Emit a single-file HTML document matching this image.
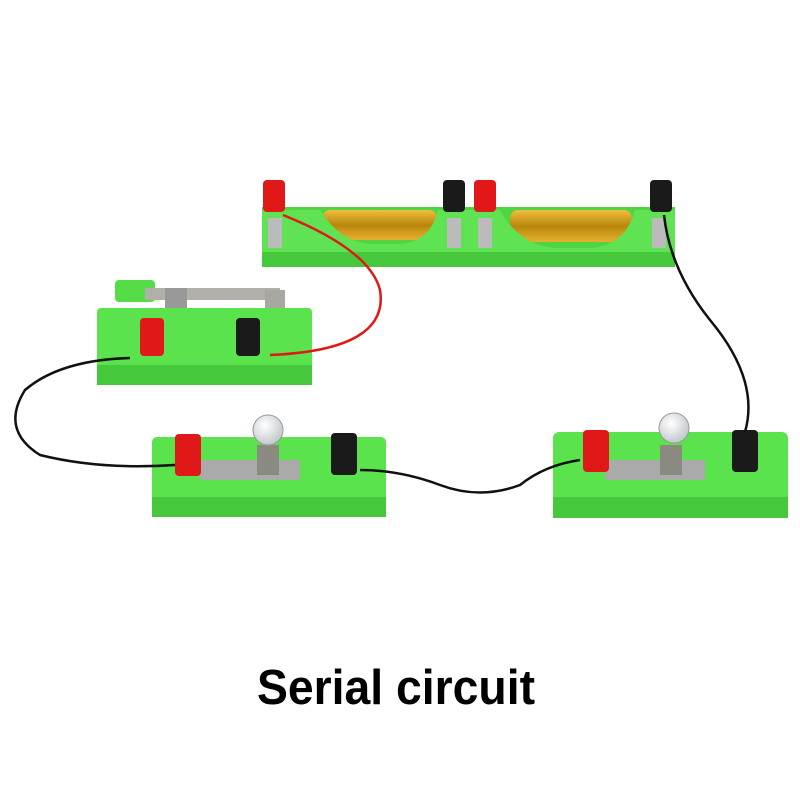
<!DOCTYPE html>
<html><head><meta charset="utf-8"><style>body{margin:0;background:#fff}svg{display:block}</style></head>
<body>
<svg width="800" height="800" viewBox="0 0 800 800" xmlns="http://www.w3.org/2000/svg">
<rect width="800" height="800" fill="#fff"/>
<defs>
<linearGradient id="bat" x1="0" y1="0" x2="0" y2="1"><stop offset="0" stop-color="#f0c040"/><stop offset=".5" stop-color="#b8860b"/><stop offset="1" stop-color="#e8b030"/></linearGradient>
<radialGradient id="bulb" cx=".4" cy=".35" r=".6"><stop offset="0" stop-color="#fff"/><stop offset="1" stop-color="#c8ccd0"/></radialGradient>
</defs>
<!-- battery holder -->
<rect x="262" y="207" width="413" height="60" fill="#4fd442"/>
<rect x="322" y="210" width="115" height="30" rx="8" fill="url(#bat)"/>
<rect x="510" y="210" width="122" height="32" rx="8" fill="url(#bat)"/>
<path d="M262 210 L320 210 Q340 242 370 244 L400 244 Q430 242 438 210 L500 210 Q520 246 555 248 L590 248 Q625 246 635 210 L675 210 L675 267 L262 267 Z" fill="#5fe352"/>
<rect x="262" y="252" width="413" height="15" fill="#46c83c"/>
<rect x="268" y="218" width="14" height="30" fill="#bbb"/>
<rect x="447" y="218" width="14" height="30" fill="#bbb"/>
<rect x="478" y="218" width="14" height="30" fill="#bbb"/>
<rect x="652" y="218" width="14" height="30" fill="#bbb"/>
<rect x="263" y="180" width="22" height="32" rx="4" fill="#e01818"/>
<rect x="443" y="180" width="22" height="32" rx="4" fill="#1a1a1a"/>
<rect x="474" y="180" width="22" height="32" rx="4" fill="#e01818"/>
<rect x="650" y="180" width="22" height="32" rx="4" fill="#1a1a1a"/>
<!-- switch -->
<rect x="115" y="280" width="40" height="22" rx="4" fill="#55dd48"/>
<rect x="145" y="288" width="135" height="12" fill="#b0b0a8"/>
<rect x="165" y="288" width="22" height="55" fill="#999"/>
<rect x="265" y="290" width="20" height="40" fill="#a8a8a0"/>
<rect x="97" y="308" width="215" height="77" rx="4" fill="#5ae34c"/>
<rect x="97" y="365" width="215" height="20" fill="#46c83c"/>
<rect x="140" y="318" width="24" height="38" rx="4" fill="#e01818"/>
<rect x="236" y="318" width="24" height="38" rx="4" fill="#1a1a1a"/>
<!-- left bulb board -->
<rect x="152" y="437" width="234" height="80" rx="5" fill="#5ae34c"/>
<rect x="152" y="497" width="234" height="20" fill="#46c83c"/>
<rect x="200" y="460" width="100" height="20" fill="#aaa"/>
<rect x="175" y="434" width="26" height="42" rx="4" fill="#e01818"/>
<rect x="331" y="433" width="26" height="42" rx="4" fill="#1a1a1a"/>
<rect x="257" y="445" width="22" height="30" fill="#8a8a80"/>
<circle cx="268" cy="430" r="15" fill="url(#bulb)" stroke="#999"/>
<!-- right bulb board -->
<rect x="553" y="432" width="235" height="86" rx="6" fill="#5ae34c"/>
<rect x="553" y="497" width="235" height="21" fill="#46c83c"/>
<rect x="605" y="460" width="100" height="20" fill="#aaa"/>
<rect x="583" y="430" width="26" height="42" rx="4" fill="#e01818"/>
<rect x="732" y="430" width="26" height="42" rx="4" fill="#1a1a1a"/>
<rect x="660" y="445" width="22" height="30" fill="#8a8a80"/>
<circle cx="674" cy="428" r="15" fill="url(#bulb)" stroke="#999"/>
<!-- wires -->
<path d="M130 358 Q60 360 25 390 Q0 430 40 455 Q100 470 175 465" fill="none" stroke="#111" stroke-width="2.5"/>
<path d="M283 215 Q370 250 380 290 Q390 350 270 355" fill="none" stroke="#e01818" stroke-width="2.5"/>
<path d="M360 470 Q400 470 440 485 Q480 500 520 485 Q545 465 580 460" fill="none" stroke="#111" stroke-width="2.5"/>
<path d="M664 215 Q670 270 710 320 Q760 380 745 432" fill="none" stroke="#111" stroke-width="2.5"/>
<text x="257" y="704" font-family="Liberation Sans, sans-serif" font-weight="bold" font-size="49" textLength="278" lengthAdjust="spacingAndGlyphs" fill="#000">Serial circuit</text>
</svg>
</body></html>
